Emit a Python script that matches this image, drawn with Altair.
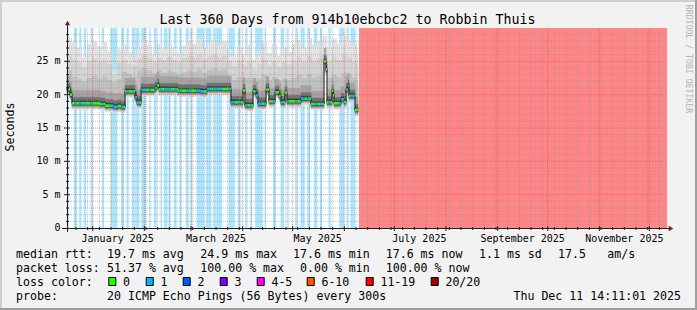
import altair as alt
import pandas as pd

# ---------------- values ----------------
END_STAMP = "2025-12-11 14:11:01"
SPAN_DAYS = 360
DATA_END = 174.6          # day offset where measurements stop
FULL_LOSS_START = 175.2   # day offset where 100 % loss starts

# median rtt (ms), step breakpoints as day offsets from the graph start
median_day = [0.0, 1.8, 3.0, 19.8, 22.8, 27.6, 30.6, 32.4, 34.8, 40.8,
              42.0, 44.4, 52.8, 54.0, 55.2, 66.6, 79.8, 84.0, 98.4, 105.6,
              106.8, 111.6, 113.4, 114.6, 119.4, 121.2, 124.8, 127.2, 128.4, 130.8,
              132.0, 140.4, 146.4, 154.2, 155.4, 156.0, 159.0, 159.6, 160.2, 164.4,
              166.2, 167.4, 168.6, 169.2, 172.8]
median_ms = [20.8, 20.0, 18.7, 18.6, 18.35, 18.2, 18.3, 18.15, 20.5, 19.6,
             18.8, 20.7, 21.0, 21.4, 20.8, 20.6, 20.5, 20.85, 18.85, 20.6,
             18.4, 20.5, 19.9, 18.65, 20.75, 19.0, 20.35, 19.8, 18.85, 20.3,
             19.0, 19.4, 18.6, 25.0, 23.8, 18.85, 20.55, 19.9, 18.7, 19.3,
             18.9, 20.75, 21.3, 19.8, 17.7]

# smoke levels, one value per 3-day sample
SMOKE_STEP = 3.0
smoke_top = [28.5, 27.8, 27.0, 25.5, 27.6, 28.0, 27.2, 27.8, 26.5, 23.5,
             26.8, 27.5, 26.3, 25.6, 27.0, 28.2, 27.4, 26.0, 27.5, 26.8,
             27.6, 27.0, 26.2, 27.3, 28.0, 27.6, 28.4, 27.0, 27.8, 28.2,
             27.5, 28.0, 26.8, 25.8, 27.2, 26.0, 27.4, 25.2, 26.6, 27.8,
             26.2, 27.5, 25.8, 27.0, 26.4, 27.6, 28.3, 27.0, 28.5, 27.4,
             28.0, 28.8, 27.2, 28.4, 27.6, 28.8, 28.2, 27.5, 26.0]
smoke_q1 = [25.8, 25.2, 24.8, 24.0, 25.0, 25.4, 24.9, 25.3, 24.6, 23.0,
            24.8, 25.2, 24.6, 24.2, 25.3, 25.9, 25.6, 24.9, 25.5, 25.1,
            25.6, 25.2, 24.8, 25.4, 25.8, 25.5, 26.0, 25.3, 25.7, 26.0,
            25.6, 25.8, 25.0, 24.2, 25.0, 24.4, 24.9, 23.8, 24.6, 25.3,
            24.4, 25.0, 24.1, 24.8, 24.5, 25.0, 25.6, 24.9, 25.7, 25.0,
            25.4, 26.0, 24.9, 25.6, 25.2, 26.0, 25.6, 25.0, 24.0]
smoke_q2 = [23.6, 22.6, 22.3, 22.0, 22.5, 22.8, 22.4, 22.7, 22.2, 21.8,
            22.3, 23.4, 23.0, 22.6, 23.5, 23.9, 23.6, 23.2, 23.7, 23.3,
            23.6, 23.4, 23.0, 23.3, 23.6, 23.4, 23.8, 23.2, 23.7, 23.9,
            23.6, 23.8, 22.8, 22.2, 22.6, 22.3, 22.5, 22.0, 22.4, 22.9,
            22.2, 22.6, 22.1, 22.4, 22.2, 22.5, 22.9, 22.4, 23.0, 22.5,
            22.7, 23.4, 22.5, 22.9, 22.6, 23.2, 22.9, 22.5, 21.5]

# periods with 1/20 packet loss (day offsets)
loss_start = [0.0, 4.2, 7.4, 10.2, 14.2, 21.0, 26.2, 32.6, 35.8, 39.0,
              41.0, 44.6, 49.4, 52.2, 56.2, 58.2, 61.0, 64.2, 67.4, 71.4,
              74.2, 77.8, 83.4, 87.8, 89.8, 97.0, 102.6, 107.0, 110.2, 113.0,
              118.6, 123.8, 128.2, 132.2, 137.0, 140.2, 144.2, 148.2, 151.8, 157.0,
              163.4, 167.8, 170.2]
loss_end = [1.0, 5.8, 8.6, 11.4, 15.4, 22.2, 30.2, 34.2, 37.0, 40.2,
            43.4, 47.4, 50.2, 53.8, 57.0, 60.2, 62.2, 65.8, 68.6, 73.0,
            75.0, 82.2, 86.6, 89.0, 93.0, 100.6, 104.2, 108.2, 111.0, 117.0,
            119.4, 125.4, 130.2, 133.0, 138.2, 142.6, 145.8, 150.2, 153.0, 158.2,
            166.2, 169.0, 172.8]

# axis tick values and labels
y_ticks = [0, 5, 10, 15, 20, 25]
y_tick_labels = ["0\u00a0\u00a0", "5 m", "10 m", "15 m", "20 m", "25 m"]
month_labels = ["January 2025", "March 2025", "May 2025", "July 2025",
                "September 2025", "November 2025"]
month_label_dates = ["2025-01-16", "2025-03-16", "2025-05-16", "2025-07-16",
                     "2025-09-16", "2025-11-16"]

title_text = "Last 360 Days from 914b10ebcbc2 to Robbin Thuis"
loss_names = ["0", "1", "2", "3", "4-5", "6-10", "11-19", "20/20"]
loss_colors = ["#26ff00", "#00b8ff", "#0059ff", "#7e00ff", "#ff00ff",
               "#ff5500", "#ff0000", "#a10000"]

# ---------------- helpers ----------------
OX, OY = 67, 28          # plot origin on the page
W, H = 600, 200
MONO = "DejaVu Sans Mono"
ONE = alt.Data(values=[{"k": 0}])

end_ts = pd.Timestamp(END_STAMP)
start_ts = end_ts - pd.Timedelta(days=SPAN_DAYS)


def tday(day):
    return int((start_ts + pd.Timedelta(days=day)).value // 10**6)


def tdate(s):
    return int(pd.Timestamp(s).value // 10**6)


xs = alt.Scale(type="utc", domain=[tday(0), tday(SPAN_DAYS)], nice=False)
ys = alt.Scale(domain=[0, 30], nice=False, zero=False)


def X(f="t"):
    return alt.X(f + ":T", scale=xs, axis=None)


def Y(f):
    return alt.Y(f + ":Q", scale=ys, axis=None)


def median_at(d):
    v = median_ms[0]
    for bd, bv in zip(median_day, median_ms):
        if bd <= d + 1e-9:
            v = bv
    return v


def in_loss(d):
    return any(s <= d < e for s, e in zip(loss_start, loss_end))


# smoke / median intervals
edges = set(median_day) | {round(i * SMOKE_STEP, 3) for i in range(len(smoke_top))}
edges = sorted(e for e in edges if e < DATA_END) + [DATA_END]
smoke_rows = []
for a, b in zip(edges[:-1], edges[1:]):
    k = min(int(a // SMOKE_STEP), len(smoke_top) - 1)
    smoke_rows.append({"t": tday(a), "t2": tday(b), "top": smoke_top[k],
                       "q1": smoke_q1[k], "q2": smoke_q2[k], "m": median_at(a)})
smoke_df = pd.DataFrame(smoke_rows)

bar_edges = set(median_day) | {d for d in loss_start + loss_end if d < DATA_END}
bar_edges = sorted(bar_edges) + [DATA_END]
bar_rows = []
for a, b in zip(bar_edges[:-1], bar_edges[1:]):
    bar_rows.append({"t": tday(a), "t2": tday(b), "m": median_at(a),
                     "c": "1" if in_loss((a + b) / 2) else "0"})
bar_df = pd.DataFrame(bar_rows)

line_df = pd.DataFrame({"t": [tday(d) for d in median_day] + [tday(DATA_END)],
                        "m": median_ms + [median_ms[-1]]})

loss_df = pd.DataFrame({"t": [tday(d) for d in loss_start],
                        "t2": [tday(d) for d in loss_end]})
full_df = pd.DataFrame({"t": [tday(FULL_LOSS_START)], "t2": [tday(SPAN_DAYS)]})

layers = []

# loss background
layers.append(alt.Chart(loss_df).mark_rect(color="#abe5fd", stroke="#abe5fd", strokeWidth=0.3).encode(
    x=X(), x2="t2:T", y=alt.value(0), y2=alt.value(H)))
layers.append(alt.Chart(full_df).mark_rect(color="#ff8686").encode(
    x=X(), x2="t2:T", y=alt.value(0), y2=alt.value(H)))

# smoke
for f, col, off in [("top", "#e2e2e2", 6), ("q1", "#d3d3d3", 5), ("q2", "#c0c0c0", 4)]:
    layers.append(alt.Chart(smoke_df).mark_rect(color=col, stroke=col, strokeWidth=0.5,
                                                y2Offset=off).encode(
        x=X(), x2="t2:T", y=Y(f), y2="m:Q"))
for col, up, dn in [("#a4a4a4", -13, 3.5), ("#727272", -6, 2.5), ("#3e3e3e", -2.5, 1.5)]:
    layers.append(alt.Chart(smoke_df).mark_rect(color=col, stroke=col, strokeWidth=0.5,
                                                yOffset=up, y2Offset=dn).encode(
        x=X(), x2="t2:T", y=Y("m"), y2="m:Q"))

# grid
week_dates = pd.date_range("2024-12-22", "2025-12-07", freq="7D")
month_dates = pd.date_range("2025-01-01", "2025-12-01", freq="MS")
vminor = pd.DataFrame({"t": [tdate(d) for d in week_dates if d.day != 1]})
vmajor = pd.DataFrame({"t": [tdate(d) for d in month_dates]})
hminor = pd.DataFrame({"v": [v for v in range(1, 30) if v % 5]})
hmajor = pd.DataFrame({"v": [5, 10, 15, 20, 25]})
MINOR = dict(color="#8f8f8f", strokeOpacity=0.55, strokeDash=[1, 1], strokeWidth=1)
MAJOR = dict(color="#de4f4f", strokeOpacity=0.6, strokeDash=[1, 1], strokeWidth=1)
layers.append(alt.Chart(hminor).mark_rule(**MINOR).encode(y=Y("v"), x=alt.value(0), x2=alt.value(W)))
layers.append(alt.Chart(vminor).mark_rule(**MINOR).encode(x=X(), y=alt.value(0), y2=alt.value(H)))
layers.append(alt.Chart(hmajor).mark_rule(**MAJOR).encode(y=Y("v"), x=alt.value(0), x2=alt.value(W)))
layers.append(alt.Chart(vmajor).mark_rule(**MAJOR).encode(x=X(), y=alt.value(0), y2=alt.value(H)))

# median line and loss-coloured median
layers.append(alt.Chart(line_df).mark_line(interpolate="step-after", color="#202020",
                                           strokeWidth=1).encode(x=X(), y=Y("m")))
layers.append(alt.Chart(bar_df).mark_rect(yOffset=-1.3, y2Offset=1.3).encode(
    x=X(), x2="t2:T", y=Y("m"), y2="m:Q",
    color=alt.Color("c:N", scale=alt.Scale(domain=["0", "1"], range=["#26ff00", "#00b8ff"]),
                    legend=None)))

# axes
AX = "#1f1f1f"
layers.append(alt.Chart(ONE).mark_rule(color=AX, strokeWidth=1).encode(
    x=alt.value(-5), x2=alt.value(W + 3), y=alt.value(H + 0.5)))
layers.append(alt.Chart(ONE).mark_rule(color=AX, strokeWidth=1).encode(
    x=alt.value(0.5), y=alt.value(H + 4), y2=alt.value(-4)))
layers.append(alt.Chart(ONE).mark_point(shape="triangle-right", filled=True, color="#801f1f",
                                        size=28, opacity=1).encode(
    x=alt.value(W + 4), y=alt.value(H + 0.5)))
layers.append(alt.Chart(ONE).mark_point(shape="triangle-up", filled=True, color="#801f1f",
                                        size=28, opacity=1).encode(
    x=alt.value(0.5), y=alt.value(-5)))
layers.append(alt.Chart(hmajor).mark_rule(color=AX).encode(
    y=Y("v"), x=alt.value(-3), x2=alt.value(3)))
layers.append(alt.Chart(hminor).mark_rule(color=AX).encode(
    y=Y("v"), x=alt.value(-1), x2=alt.value(2)))
layers.append(alt.Chart(vmajor).mark_rule(color=AX).encode(
    x=X(), y=alt.value(H - 2), y2=alt.value(H + 3)))
layers.append(alt.Chart(vminor).mark_rule(color=AX).encode(
    x=X(), y=alt.value(H - 1), y2=alt.value(H + 2)))

# tick labels
ylab_df = pd.DataFrame({"v": y_ticks, "lab": y_tick_labels})
layers.append(alt.Chart(ylab_df).mark_text(font=MONO, fontSize=10, align="right",
                                           baseline="middle", color="#000000").encode(
    y=Y("v"), x=alt.value(-6.5), text="lab:N"))
xlab_df = pd.DataFrame({"t": [tdate(d) for d in month_label_dates], "lab": month_labels})
layers.append(alt.Chart(xlab_df).mark_text(font=MONO, fontSize=10, align="center",
                                           baseline="alphabetic", color="#000000").encode(
    x=X(), y=alt.value(242 - OY), text="lab:N"))


def text(s, x, y, size=11.6, align="left", color="#000000", angle=0, baseline="alphabetic"):
    return alt.Chart(ONE).mark_text(text=s, align=align, baseline=baseline, font=MONO,
                                    fontSize=size, color=color, angle=angle).encode(
        x=alt.value(x - OX), y=alt.value(y - OY))


layers.append(text(title_text, 347.5, 24, size=13.3, align="center"))
layers.append(text("Seconds", 11, 127, angle=270, align="center", baseline="middle"))
layers.append(text("RRDTOOL / TOBI OETIKER", 687.5, 59, size=8.2, align="center",
                   baseline="middle", angle=90, color="#b4b4b4"))

R1, R2, R3, R4 = 258.3, 272.3, 286, 300
for s, x in [("median rtt:", 16), ("19.7 ms avg", 107), ("24.9 ms max", 200.3),
             ("17.6 ms min", 293), ("17.6 ms now", 385.7), ("1.1 ms sd", 479),
             ("17.5", 558), ("am/s", 607.3)]:
    layers.append(text(s, x, R1))
for s, x in [("packet loss:", 16), ("51.37 % avg", 107), ("100.00 % max", 200.3),
             ("0.00 % min", 300), ("100.00 % now", 385.7)]:
    layers.append(text(s, x, R2))
layers.append(text("loss color:", 16, R3))
box_x = [108.3, 145.7, 182.7, 219.7, 256.7, 306.7, 365.7, 430.7]
for name, col, bx in zip(loss_names, loss_colors, box_x):
    layers.append(alt.Chart(ONE).mark_rect(color=col, stroke="#000000", strokeWidth=1).encode(
        x=alt.value(bx + 0.5 - OX), x2=alt.value(bx + 7.5 - OX),
        y=alt.value(277.5 - OY), y2=alt.value(285.5 - OY)))
    layers.append(text(name, bx + 14.7, R3))
layers.append(text("probe:", 16, R4))
layers.append(text("20 ICMP Echo Pings (56 Bytes) every 300s", 107, R4))
layers.append(text("Thu Dec 11 14:11:01 2025", 681, R4, align="right"))

# outer shaded border
layers.append(alt.Chart(ONE).mark_rule(color="#cfcfcf", strokeWidth=2).encode(
    x=alt.value(-OX), x2=alt.value(697 - OX), y=alt.value(1 - OY)))
layers.append(alt.Chart(ONE).mark_rule(color="#cfcfcf", strokeWidth=2).encode(
    y=alt.value(-OY), y2=alt.value(310 - OY), x=alt.value(1 - OX)))
layers.append(alt.Chart(ONE).mark_rule(color="#9e9e9e", strokeWidth=2).encode(
    x=alt.value(-OX), x2=alt.value(697 - OX), y=alt.value(309 - OY)))
layers.append(alt.Chart(ONE).mark_rule(color="#9e9e9e", strokeWidth=2).encode(
    y=alt.value(-OY), y2=alt.value(310 - OY), x=alt.value(696 - OX)))

chart = alt.layer(*layers).properties(
    width=W, height=H, autosize="none",
    padding={"left": OX, "top": OY, "right": 697 - OX - W, "bottom": 310 - OY - H},
).configure(background="#f2f2f2").configure_view(fill="#ffffff", strokeWidth=0)

chart.save("out.html", embed_options={"renderer": "svg", "actions": False})
